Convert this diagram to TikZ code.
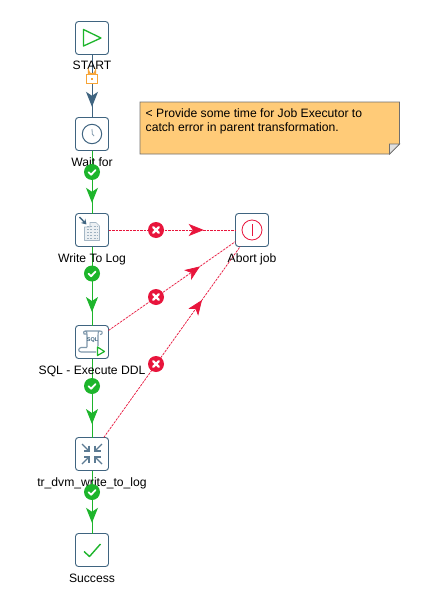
\documentclass[tikz,border=0pt]{standalone}
\usepackage{fontspec}
\setmainfont{Liberation Sans}
\usetikzlibrary{arrows.meta,decorations.markings}
\definecolor{boxblue}{HTML}{3F6480}
\definecolor{flowgreen}{HTML}{1DB52B}
\definecolor{flowred}{HTML}{E8153C}
\definecolor{lockorange}{HTML}{F7A436}
\definecolor{notefill}{HTML}{FFCB78}
\definecolor{notegray}{HTML}{6F6F6F}
\definecolor{iconblue}{HTML}{7F98AC}
\tikzset{
  x=1pt,y=-1pt,
  jobbox/.style={draw=boxblue,fill=white,line width=0.9pt,rounded corners=3pt,minimum size=33pt,inner sep=0pt,outer sep=0pt},
  steplabel/.style={font=\fontsize{12.15}{14}\selectfont,text=black,inner sep=0pt,anchor=base},
  hopmark/.style 2 args={postaction={decorate,decoration={markings,mark=at position #1 with {\arrow[#2]{Stealth[length=15pt,width=12pt,inset=4pt]}}}}},
  okhop/.style={draw=flowgreen,line width=1pt,hopmark={#1}{flowgreen}},
  lockhop/.style={draw=boxblue,line width=1pt,hopmark={#1}{boxblue}},
  errhop/.style={draw=flowred,line width=0.7pt,dash pattern=on 2.5pt off 1pt,hopmark={#1}{flowred,solid}},
  okmark/.style={circle,fill=flowgreen,minimum size=16pt,inner sep=0pt},
  errmark/.style={circle,fill=flowred,minimum size=16pt,inner sep=0pt},
  icon/.style={line width=1pt,line join=round},
}
\begin{document}
\begin{tikzpicture}
\useasboundingbox (0,0) rectangle (425,602);
\fill[white] (0,0) rectangle (425,602);
% steps
\node[jobbox] (start) at (92,38) {};
\node[jobbox] (wait) at (92,134) {};
\node[jobbox] (log) at (92,230) {};
\node[jobbox] (sql) at (92,342) {};
\node[jobbox] (tr) at (92,454) {};
\node[jobbox] (ok) at (92,550) {};
\node[jobbox] (abort) at (252,230) {};
% hops
\draw[lockhop=0.83] (start) -- (wait);
\draw[okhop=0.83] (wait) -- (log);
\draw[okhop=0.83] (log) -- (sql);
\draw[okhop=0.83] (sql) -- (tr);
\draw[okhop=0.83] (tr) -- (ok);
\draw[errhop=0.75] (log) -- (abort);
\draw[errhop=0.72] (sql) -- (abort);
\draw[errhop=0.72] (tr) -- (abort);
% labels
\node[steplabel] (startl) at (92,70) {START};
\node[steplabel] (waitl) at (92,166) {Wait for};
\node[steplabel] (logl) at (92,262) {Write To Log};
\node[steplabel] (sqll) at (92,374) {SQL - Execute DDL};
\node[steplabel] (trl) at (92,486) {tr\_dvm\_write\_to\_log};
\node[steplabel] (okl) at (92,582) {Success};
\node[steplabel] (abortl) at (252,262) {Abort job};
% hop marks
\node[okmark] (m1) at (92,172) {};
\node[okmark] (m2) at (92,273.5) {};
\node[okmark] (m3) at (92,386) {};
\node[okmark] (m4) at (92,492) {};
\foreach \n in {m1,m2,m3,m4}
  \draw[white,line width=1.8pt,line cap=round,line join=round] ([shift={(-3.4,0.2)}]\n.center) -- ++(2.5,2.5) -- ++(4.4,-4.6);
\node[errmark] (e1) at (156,230) {};
\node[errmark] (e2) at (156,297) {};
\node[errmark] (e3) at (156,364) {};
\foreach \n in {e1,e2,e3}{
  \draw[white,line width=2.2pt,line cap=round] ([shift={(-2.8,-2.8)}]\n.center) -- ++(5.6,5.6);
  \draw[white,line width=2.2pt,line cap=round] ([shift={(-2.8,2.8)}]\n.center) -- ++(5.6,-5.6);
}
% lock
\draw[lockorange,line width=1.3pt] (88.5,74) -- (88.5,70.5) arc[start angle=180,end angle=0,radius=3.5] -- (95.5,74);
\draw[lockorange,line width=1.3pt,fill=white] (86.7,74.5) rectangle (97.5,83.8);
\fill[lockorange] (91,78) rectangle (93,80);
% start icon
\draw[icon,flowgreen,line width=1.3pt] (83.5,29.5) -- (101,38) -- (83.5,46) -- cycle;
% clock
\draw[icon,boxblue] (92,134) circle[radius=9.7];
\draw[iconblue,line width=0.8pt] (92,129) -- (92.3,134) -- (94,136);
% write to log icon
\draw[icon,draw=iconblue!70,fill=iconblue!15,line width=0.7pt] (84.5,227) -- (90,227) -- (90,222.5) -- (96,222.5) -- (99.5,226) -- (99.5,240.5) -- (84.5,240.5) -- cycle;
\foreach \yy in {226,229,232,235,238}
  \draw[iconblue!75,line width=1pt,dash pattern=on 2pt off 1.3pt] (87,\yy) -- (98,\yy);
\draw[boxblue,line width=1.4pt,-{Stealth[length=5pt,width=6pt]}] (79.5,217) -- (86.5,224.5);
% sql icon
\draw[icon,draw=iconblue,line width=1.1pt] (85,331) .. controls (87,331) and (87,333) .. (87,335) -- (87,347) (85,331) -- (100,331) .. controls (103,331) and (103,334.5) .. (100,334.5) (99,331) .. controls (98,332) and (98,334) .. (98,336) -- (98,346);
\draw[icon,draw=iconblue,line width=1.1pt] (87,347.5) -- (81,347.5) .. controls (78,348) and (78,352) .. (81,352) -- (96,352);
\draw[icon,draw=iconblue,line width=1.1pt] (85,331) .. controls (83.5,331) and (83,333) .. (84,334) -- (87,334);
\node[font=\fontsize{5.5}{6}\selectfont\bfseries,text=boxblue,inner sep=0pt] (sqlt) at (92.5,340) {SQL};
\draw[icon,flowgreen,fill=white,line width=1.2pt] (97.5,347) -- (104.5,351.5) -- (97.5,355.5) -- cycle;
% tr icon
\foreach \sx/\sy in {-1/-1,1/-1,-1/1,1/1}{
  \draw[boxblue!85!white,line width=1.3pt] (92+\sx*10,454+\sy*10) -- (92+\sx*3.5,454+\sy*3.5);
  \draw[boxblue!85!white,line width=1.3pt] (92+\sx*3,454+\sy*8.5) -- (92+\sx*3,454+\sy*3) -- (92+\sx*8.5,454+\sy*3);
}
% success icon
\draw[icon,flowgreen,line width=1.4pt] (84,551.5) -- (89.5,556.5) -- (100.5,544);
% abort icon
\draw[icon,flowred,line width=0.8pt] (252,230) circle[radius=10];
\draw[flowred,line width=0.8pt] (252,224) -- (252,236);
% note
\path[draw=notegray,fill=notefill,line width=0.9pt] (140,102) -- (399.5,102) -- (399.5,144) -- (389.5,154) -- (140,154) -- cycle;
\path[draw=notegray,fill=black!12,line width=0.7pt] (399.5,144) -- (389.5,144) -- (389.5,154) -- cycle;
\node[font=\fontsize{12.15}{14}\selectfont,align=left,anchor=base west,inner sep=0pt,text=black] (note) at (145.5,131.7) {< Provide some time for Job Executor to\\catch error in parent transformation.};
\end{tikzpicture}
\end{document}
